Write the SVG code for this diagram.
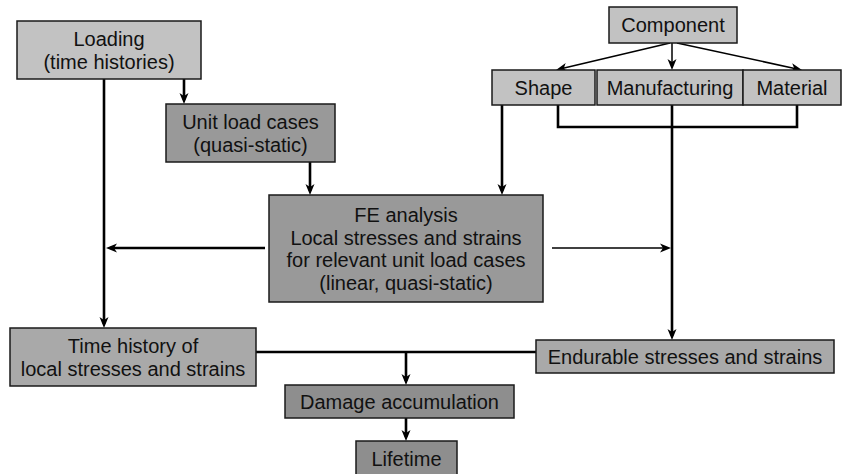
<svg xmlns="http://www.w3.org/2000/svg" width="842" height="474" viewBox="0 0 842 474">
  <style>
    .box rect { stroke: #1a1a1a; stroke-width: 1.5; }
    .light rect { fill: #c2c2c2; }
    .mid rect { fill: #a9a9a9; }
    .dark rect { fill: #999999; }
    .darker rect { fill: #8e8e8e; }
    text { font-family: "Liberation Sans", Arial, Helvetica, sans-serif; font-size: 20px; fill: #111111; text-anchor: middle; }
    .conn { fill: none; stroke: #000000; stroke-width: 2.6; }
    .thin { stroke-width: 1.5; }
  </style>
  <defs>
    <marker id="ah" markerUnits="userSpaceOnUse" markerWidth="14" markerHeight="12" viewBox="0 -6 12 12" refX="7" refY="0" orient="auto">
      <path d="M11,0 L0,-4.5 L3,0 L0,4.5 Z" fill="#000000"/>
    </marker>
  </defs>

  <rect width="842" height="474" fill="#ffffff"/>

  <!-- connectors -->
  <g id="connectors">
    <line class="conn" x1="184" y1="79" x2="184" y2="100" marker-end="url(#ah)"/>
    <line class="conn" x1="104" y1="79" x2="104" y2="324" marker-end="url(#ah)"/>
    <line class="conn" x1="310" y1="162" x2="310" y2="191" marker-end="url(#ah)"/>
    <line class="conn" x1="502" y1="105" x2="502" y2="191" marker-end="url(#ah)"/>
    <line class="conn" x1="265" y1="248" x2="110" y2="248" marker-end="url(#ah)"/>
    <line class="conn thin" x1="552" y1="248" x2="667" y2="248" marker-end="url(#ah)"/>
    <line class="conn thin" x1="670" y1="43" x2="559.9" y2="69.1" marker-end="url(#ah)"/>
    <line class="conn thin" x1="672" y1="43" x2="672" y2="66" marker-end="url(#ah)"/>
    <line class="conn thin" x1="677" y1="43" x2="798.1" y2="69.2" marker-end="url(#ah)"/>
    <polyline class="conn" points="558,105 558,127 797,127 797,105"/>
    <line class="conn" x1="672" y1="105" x2="672" y2="336" marker-end="url(#ah)"/>
    <line class="conn" x1="256" y1="352" x2="536" y2="352"/>
    <line class="conn" x1="406" y1="352" x2="406" y2="381" marker-end="url(#ah)"/>
    <line class="conn" x1="406" y1="418" x2="406" y2="437" marker-end="url(#ah)"/>
  </g>

  <!-- nodes -->
  <g id="loading" class="box light">
    <rect x="17" y="21" width="184" height="58"/>
    <text x="109" y="46">Loading</text>
    <text x="109" y="68.5">(time histories)</text>
  </g>
  <g id="unit-load-cases" class="box dark">
    <rect x="166" y="104" width="169" height="58"/>
    <text x="250.5" y="129">Unit load cases</text>
    <text x="250.5" y="151.5">(quasi-static)</text>
  </g>
  <g id="component" class="box light">
    <rect x="609" y="7" width="128" height="36"/>
    <text x="673" y="32">Component</text>
  </g>
  <g id="shape" class="box light">
    <rect x="492" y="70" width="103" height="35"/>
    <text x="543.5" y="94.5">Shape</text>
  </g>
  <g id="manufacturing" class="box light">
    <rect x="597" y="70" width="146" height="35"/>
    <text x="670" y="94.5">Manufacturing</text>
  </g>
  <g id="material" class="box light">
    <rect x="743" y="70" width="98" height="35"/>
    <text x="792" y="94.5">Material</text>
  </g>
  <g id="fe-analysis" class="box dark">
    <rect x="269" y="195" width="274" height="107"/>
    <text x="406" y="222">FE analysis</text>
    <text x="406" y="244.5">Local stresses and strains</text>
    <text x="406" y="267">for relevant unit load cases</text>
    <text x="406" y="289.5">(linear, quasi-static)</text>
  </g>
  <g id="time-history" class="box mid">
    <rect x="10" y="328" width="246" height="58"/>
    <text x="133" y="353">Time history of</text>
    <text x="133" y="375.5">local stresses and strains</text>
  </g>
  <g id="endurable" class="box mid">
    <rect x="536" y="340" width="298" height="33"/>
    <text x="685" y="363.5">Endurable stresses and strains</text>
  </g>
  <g id="damage" class="box darker">
    <rect x="285" y="385" width="229" height="33"/>
    <text x="399.5" y="408.5">Damage accumulation</text>
  </g>
  <g id="lifetime" class="box darker">
    <rect x="356" y="441" width="101" height="36"/>
    <text x="406.5" y="465.5">Lifetime</text>
  </g>
</svg>
